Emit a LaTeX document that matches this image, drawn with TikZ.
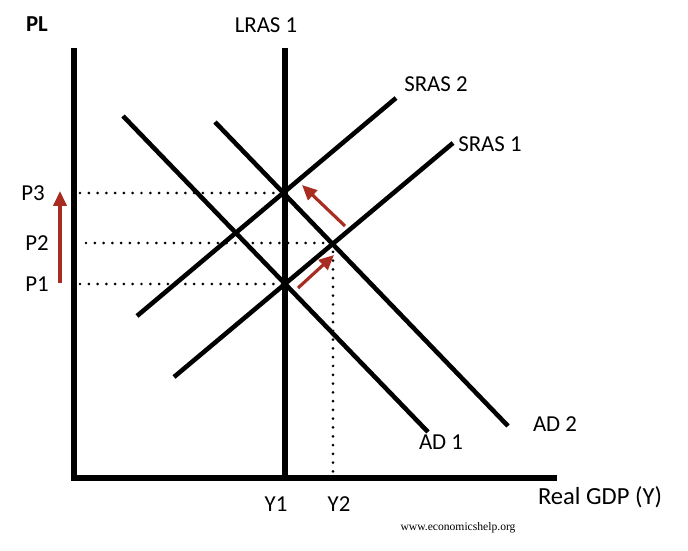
\documentclass[tikz,border=0pt]{standalone}
\usepackage{fontspec}
\setmainfont{Carlito}
\newfontfamily\webfont{Liberation Serif}
\usetikzlibrary{arrows.meta}
\definecolor{shiftred}{RGB}{168,45,32}

\begin{document}
\begin{tikzpicture}
    [x=0.02cm,y=-0.02cm,
     axis/.style={line width=3pt},
     curve/.style={line width=2.6pt},
     guide/.style={line width=1.7pt,line cap=round,dash pattern=on 0pt off 5pt},
     movearrow/.style={draw=shiftred,line width=1.8pt,-{Triangle[length=8.5pt,width=7.5pt]}},
     lbl/.style={font=\fontsize{13}{15}\selectfont,inner sep=1pt}]
    \useasboundingbox (0,0) rectangle (688,550);
    \coordinate (origin) at (74,478);
    \coordinate (ytop) at (74,48);
    \coordinate (xend) at (557,478);
    \coordinate (lrastop) at (285,48);
    \coordinate (lrasbot) at (285,478);
    \coordinate (sras1a) at (174,377);
    \coordinate (sras1b) at (453,143);
    \coordinate (sras2a) at (137,316);
    \coordinate (sras2b) at (396,98);
    \coordinate (ad1a) at (123,116);
    \coordinate (ad1b) at (428,432);
    \coordinate (ad2a) at (215,122);
    \coordinate (ad2b) at (508,426);
    \coordinate (e1) at (285,284);
    \coordinate (e2) at (333,243);
    \coordinate (e3) at (285,193);
    \coordinate (p1dot) at (80,284);
    \coordinate (p2dot) at (86,243);
    \coordinate (p3dot) at (80,193);
    \coordinate (y2dot) at (333,476);
    \coordinate (upa) at (60,283);
    \coordinate (upb) at (60,191);
    \coordinate (mva) at (298,288);
    \coordinate (mvb) at (334,255);
    \coordinate (mvc) at (345,226);
    \coordinate (mvd) at (302,185);
    % axes and curves
    \draw[axis] (ytop) -- (origin) -- (xend);
    \draw[axis] (lrastop) -- (lrasbot);
    \draw[curve] (sras1a) -- (sras1b);
    \draw[curve] (sras2a) -- (sras2b);
    \draw[curve] (ad1a) -- (ad1b);
    \draw[curve] (ad2a) -- (ad2b);
    \draw[guide] (p1dot) -- (e1);
    \draw[guide] (p2dot) -- (e2);
    \draw[guide] (p3dot) -- (e3);
    \draw[guide] (e2) -- (y2dot);
    \draw[movearrow] (upa) -- (upb);
    \draw[movearrow] (mva) -- (mvb);
    \draw[movearrow] (mvc) -- (mvd);
    % labels
    \node[lbl,font=\fontsize{13}{15}\selectfont\bfseries] (pl) at (37,24) {PL};
    \node[lbl] (lras) at (266,25) {LRAS 1};
    \node[lbl] (sras2) at (436,84) {SRAS 2};
    \node[lbl] (sras1) at (490,144) {SRAS 1};
    \node[lbl] (ad2) at (555,424) {AD 2};
    \node[lbl] (ad1) at (441,442) {AD 1};
    \node[lbl] (p3) at (33,193) {P3};
    \node[lbl] (p2) at (37,243) {P2};
    \node[lbl] (p1) at (37,284) {P1};
    \node[lbl] (y1) at (276,504) {Y1};
    \node[lbl] (y2) at (339,504) {Y2};
    \node[lbl,font=\fontsize{14}{16}\selectfont] (gdp) at (600,497) {Real GDP (Y)};
    \node[inner sep=1pt,font=\webfont\fontsize{6.6}{8}\selectfont] (web) at (458,528) {www.economicshelp.org};
\end{tikzpicture}
\end{document}
